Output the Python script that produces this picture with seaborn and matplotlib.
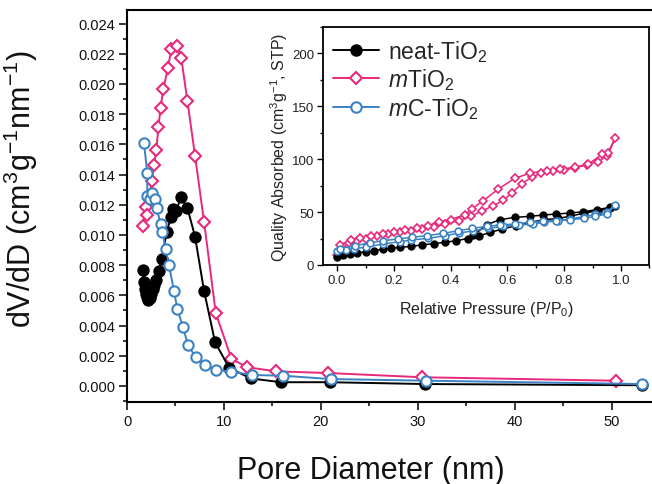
import numpy as np
import pandas as pd
import matplotlib
matplotlib.use("Agg")
import matplotlib.pyplot as plt
from matplotlib.ticker import MultipleLocator, FormatStrFormatter
from matplotlib.lines import Line2D
import seaborn as sns

# ---- pore size distribution (BJH), pore diameter in nm vs dV/dD ----
neat_d = [1.64, 1.75, 1.85, 1.97, 2.09, 2.2, 2.35, 2.5, 2.65, 2.8, 2.96, 3.3, 3.58,
          4.1, 4.55, 4.75, 5.1, 5.54, 6.23, 7.02, 7.95, 9.09, 10.54, 12.78, 15.88,
          20.9, 30.7, 53.1]
neat_dv = [0.0077, 0.0069, 0.0064, 0.0061, 0.0059, 0.0057, 0.0058, 0.0061, 0.0064,
           0.0067, 0.0070, 0.0076, 0.0084, 0.0102, 0.0112, 0.0117, 0.0116, 0.0125,
           0.0118, 0.0099, 0.0063, 0.0029, 0.0012, 0.0005, 0.00025, 0.00025,
           0.00013, 0.00005]

m_d = [1.64, 1.92, 2.09, 2.54, 2.78, 3.04, 3.23, 3.47, 3.74, 4.23, 4.57, 5.13, 5.60,
       6.23, 7.02, 7.95, 9.16, 10.78, 12.43, 15.37, 20.7, 30.4, 50.45]
m_dv = [0.01058, 0.01183, 0.01134, 0.0136, 0.01464, 0.01563, 0.01713, 0.01841,
        0.01967, 0.02106, 0.02232, 0.02254, 0.02172, 0.01889, 0.01525, 0.01088,
        0.00483, 0.00179, 0.00124, 0.00097, 0.00086, 0.00058, 0.00035]

mc_d = [1.75, 2.09, 2.09, 2.34, 2.54, 2.89, 3.06, 3.47, 3.64, 3.99, 4.33, 4.85, 5.19,
        5.78, 6.3, 7.09, 8.02, 9.16, 10.78, 12.85, 16.05, 21.05, 30.9, 53.1]
mc_dv = [0.0161, 0.0141, 0.0126, 0.0124, 0.0128, 0.0124, 0.0118, 0.0107, 0.0102,
         0.0091, 0.0080, 0.0063, 0.0051, 0.0039, 0.0027, 0.0019, 0.0014, 0.00106,
         0.00095, 0.00073, 0.00068, 0.00046, 0.00035, 0.00013]

# ---- N2 isotherms: adsorption branch then desorption branch ----
neat_p_ads = [0.0, 0.02, 0.045, 0.07, 0.1, 0.13, 0.16, 0.19, 0.22, 0.26, 0.30, 0.34,
              0.38, 0.42, 0.46, 0.50, 0.54, 0.58, 0.63, 0.68, 0.73, 0.78, 0.82, 0.87,
              0.92, 0.96, 0.98]
neat_v_ads = [7.3, 9.4, 10.5, 11.3, 12.5, 13.5, 14.8, 15.8, 16.6, 17.6, 19.0, 20.2,
              21.4, 23.0, 25.0, 27.5, 30.9, 33.8, 37.2, 40.4, 42.8, 44.1, 46.0, 49.1,
              51.3, 53.5, 56.0]
neat_p_des = [0.962, 0.915, 0.868, 0.82, 0.772, 0.725, 0.679, 0.626, 0.573, 0.527, 0.48]
neat_v_des = [54.5, 52.3, 50.4, 49.1, 48.2, 47.2, 46.0, 45.0, 42.8, 38.0, 28.0]

m_p_ads = [0.0, 0.04, 0.07, 0.10, 0.14, 0.18, 0.22, 0.26, 0.30, 0.34, 0.38, 0.43,
           0.47, 0.51, 0.55, 0.585, 0.615, 0.65, 0.685, 0.72, 0.76, 0.80, 0.84, 0.88,
           0.92, 0.95, 0.98]
m_v_ads = [9.7, 21.0, 23.0, 25.0, 27.0, 29.0, 31.0, 32.5, 34.0, 36.0, 38.5, 42.0,
           46.0, 51.0, 56.0, 61.0, 68.0, 76.5, 83.0, 87.0, 88.5, 90.0, 92.0, 95.0,
           97.6, 103.0, 120.0]
m_p_des = [0.955, 0.935, 0.885, 0.838, 0.785, 0.738, 0.68, 0.626, 0.568, 0.515,
           0.474, 0.45, 0.40, 0.36, 0.32, 0.28, 0.24, 0.20, 0.16, 0.12, 0.08, 0.05,
           0.01]
m_v_des = [106.0, 104.9, 95.4, 92.3, 90.7, 89.1, 86.9, 81.9, 71.8, 60.8, 52.9, 47.5,
           43.0, 41.0, 37.0, 35.0, 33.0, 31.0, 29.5, 27.7, 25.5, 24.0, 18.9]

mc_p_ads = [0.0, 0.03, 0.06, 0.1, 0.16, 0.22, 0.26, 0.32, 0.38, 0.43, 0.48, 0.53,
            0.585, 0.64, 0.69, 0.73, 0.78, 0.82, 0.87, 0.91, 0.95, 0.98]
mc_v_ads = [13.5, 14.5, 15.5, 16.7, 19.8, 22.0, 23.6, 25.2, 27.7, 30.2, 32.4, 34.6,
            36.5, 37.8, 38.7, 40.4, 41.9, 43.5, 45.7, 48.0, 50.0, 56.7]
mc_p_des = [0.95, 0.91, 0.87, 0.82, 0.772, 0.725, 0.679, 0.626, 0.573, 0.527, 0.474,
            0.427, 0.374, 0.315, 0.262, 0.215, 0.162, 0.115, 0.062, 0.01]
mc_v_des = [48.2, 46.0, 44.1, 42.8, 41.9, 41.3, 40.4, 38.7, 37.8, 36.5, 34.6, 32.4,
            29.9, 27.7, 26.2, 24.6, 23.0, 20.8, 18.3, 15.1]

labels = ["neat-TiO$_2$", r"$\mathit{m}$TiO$_2$", r"$\mathit{m}$C-TiO$_2$"]
colors = ["#000000", "#E8287C", "#3B82C4"]

sns.set_theme(style="white")
plt.rcParams["font.family"] = ["Liberation Sans", "DejaVu Sans"]
plt.rcParams["mathtext.fontset"] = "custom"
plt.rcParams["mathtext.rm"] = "Liberation Sans"
plt.rcParams["mathtext.it"] = "Liberation Sans:italic"
plt.rcParams["mathtext.default"] = "regular"

fig = plt.figure(figsize=(6.52, 4.85), dpi=100)
W, H = 652.0, 485.0

# main axes spans past the right border of the figure
ax = fig.add_axes([127 / W, (H - 403) / H, (660 - 127) / W, (403 - 11) / H])

styles = [
    dict(marker="o", markerfacecolor=colors[0], markeredgecolor=colors[0]),
    dict(marker="D", markerfacecolor="white", markeredgecolor=colors[1]),
    dict(marker="o", markerfacecolor="white", markeredgecolor=colors[2]),
]

main_sets = [(neat_d, neat_dv), (m_d, m_dv), (mc_d, mc_dv)]
zorders = [3, 2, 4]
for (xd, yd), c, st, z in zip(main_sets, colors, styles, zorders):
    msz = 6.4 if st["marker"] == "D" else 7.4
    sns.lineplot(x=xd, y=yd, ax=ax, sort=False, estimator=None, color=c,
                 linewidth=1.4, markersize=msz, markeredgewidth=1.5,
                 zorder=z, **st)

ax.set_xlim(0, 55)
ax.set_ylim(-0.00106, 0.0249)
ax.xaxis.set_major_locator(MultipleLocator(10))
ax.xaxis.set_minor_locator(MultipleLocator(5))
ax.yaxis.set_major_locator(MultipleLocator(0.002))
ax.yaxis.set_minor_locator(MultipleLocator(0.001))
ax.yaxis.set_major_formatter(FormatStrFormatter("%.3f"))
ax.tick_params(axis="both", which="major", direction="out", length=6, width=1.1,
               labelsize=10.5, pad=2.5, color="black", labelcolor="#111111")
ax.tick_params(axis="both", which="minor", direction="out", length=3.2, width=1.1,
               color="black")
ax.tick_params(axis="x", which="both", bottom=True)
ax.tick_params(axis="y", which="both", left=True)
for sp in ax.spines.values():
    sp.set_linewidth(1.5)
    sp.set_color("black")
ax.set_xlabel("Pore Diameter (nm)", fontsize=22, color="#111111")
ax.set_ylabel("dV/dD (cm$^3$g$^{-1}$nm$^{-1}$)", fontsize=22, color="#111111")
ax.xaxis.set_label_coords(0.458, -0.135)
ax.yaxis.set_label_coords(-0.163, 0.546)

# ---- inset: isotherms ----
ins_xlim = (-0.05, 1.1)
px_per_unit = 283.7
ins = fig.add_axes([323 / W, (H - 266) / H,
                    (ins_xlim[1] - ins_xlim[0]) * px_per_unit / W, 238 / H])
iso_sets = [
    (neat_p_ads + neat_p_des, neat_v_ads + neat_v_des),
    (m_p_ads + m_p_des, m_v_ads + m_v_des),
    (mc_p_ads + mc_p_des, mc_v_ads + mc_v_des),
]
for (xp, yv), c, st, z in zip(iso_sets, colors, styles, zorders):
    msz = 4.2 if st["marker"] == "D" else 4.8
    sns.lineplot(x=xp, y=yv, ax=ins, sort=False, estimator=None, color=c,
                 linewidth=1.1, markersize=msz, markeredgewidth=1.2,
                 zorder=z, **st)

ins.set_xlim(*ins_xlim)
ins.set_ylim(0, 225)
ins.xaxis.set_major_locator(MultipleLocator(0.2))
ins.xaxis.set_minor_locator(MultipleLocator(0.1))
ins.yaxis.set_major_locator(MultipleLocator(50))
ins.yaxis.set_minor_locator(MultipleLocator(25))
ins.xaxis.set_major_formatter(FormatStrFormatter("%.1f"))
ins.tick_params(axis="both", which="major", direction="out", length=4.5, width=1,
                labelsize=9.5, pad=2, color="black", labelcolor="#222222")
ins.tick_params(axis="both", which="minor", direction="out", length=2.5, width=1,
                color="black")
ins.tick_params(axis="x", which="both", bottom=True)
ins.tick_params(axis="y", which="both", left=True)
for sp in ins.spines.values():
    sp.set_linewidth(1.3)
    sp.set_color("black")
ins.set_xlabel("Relative Pressure (P/P$_0$)", fontsize=11.5, labelpad=9,
               color="#222222")
ins.set_ylabel("Quality Absorbed (cm$^3$g$^{-1}$, STP)", fontsize=11.5,
               color="#222222")
ins.yaxis.set_label_coords(-0.102, 0.5)

handles = [Line2D([], [], color=c, linewidth=1.4, markersize=7.5 if st["marker"] == "o" else 6.5,
                  markeredgewidth=1.5, **st)
           for c, st in zip(colors, styles)]
ins.legend(handles, labels, loc="upper left", bbox_to_anchor=(0.03, 0.955),
           frameon=False, fontsize=16.5, handlelength=2.0, handletextpad=0.4,
           labelspacing=0.12, borderaxespad=0, borderpad=0)

fig.savefig("out.png", dpi=100)
